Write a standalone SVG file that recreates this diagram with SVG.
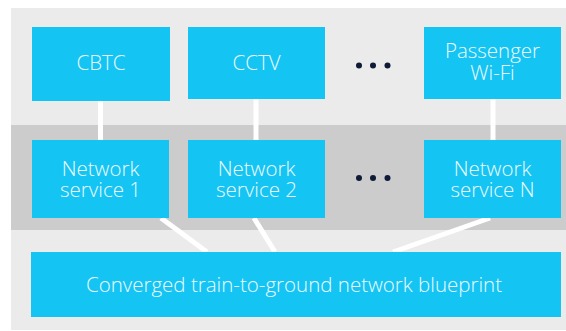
<svg xmlns="http://www.w3.org/2000/svg" width="566" height="331" viewBox="0 0 566 331">
  <style>
    .box { fill: #14c4f3; }
    .lbl { font-family: "Open Sans", "Noto Sans", sans-serif; font-weight: 300; font-size: 20.5px; fill: #eefaff; text-anchor: middle; }
    .conn { stroke: #ffffff; stroke-width: 5; fill: none; }
    .dot { fill: #0e1a38; }
  </style>
  <rect x="0" y="0" width="566" height="331" fill="#ffffff"/>
  <rect x="11" y="8" width="555" height="322" fill="#ebebeb"/>
  <rect x="11" y="125" width="555" height="105" fill="#cccccc"/>

  <g id="connectors">
    <line class="conn" x1="100.5" y1="95" x2="100.5" y2="145"/>
    <line class="conn" x1="256" y1="95" x2="256" y2="145"/>
    <line class="conn" x1="493" y1="95" x2="493" y2="145"/>
    <line class="conn" x1="161" y1="218" x2="207" y2="252"/>
    <line class="conn" x1="254" y1="218" x2="275" y2="252"/>
    <line class="conn" x1="490" y1="218" x2="393" y2="252"/>
  </g>

  <g id="cbtc">
    <rect class="box" x="32" y="27" width="138" height="74"/>
    <text class="lbl" x="101" y="70">CBTC</text>
  </g>
  <g id="cctv">
    <rect class="box" x="188" y="27" width="137" height="72"/>
    <text class="lbl" x="256.5" y="70">CCTV</text>
  </g>
  <g id="dots-top">
    <circle class="dot" cx="359" cy="65.5" r="3"/>
    <circle class="dot" cx="373" cy="65.5" r="3"/>
    <circle class="dot" cx="387.5" cy="65.5" r="3"/>
  </g>
  <g id="wifi">
    <rect class="box" x="424" y="27" width="137" height="72"/>
    <text class="lbl" x="492.5" y="58">Passenger<tspan x="492.5" dy="21.5">Wi-Fi</tspan></text>
  </g>

  <g id="ns1">
    <rect class="box" x="32" y="140" width="137" height="78"/>
    <text class="lbl" x="100.5" y="175.5">Network<tspan x="100.5" dy="21">service 1</tspan></text>
  </g>
  <g id="ns2">
    <rect class="box" x="188" y="140" width="137" height="78"/>
    <text class="lbl" x="256.5" y="175.5">Network<tspan x="256.5" dy="21">service 2</tspan></text>
  </g>
  <g id="dots-mid">
    <circle class="dot" cx="359" cy="178" r="3"/>
    <circle class="dot" cx="373" cy="178" r="3"/>
    <circle class="dot" cx="387.5" cy="178" r="3"/>
  </g>
  <g id="nsn">
    <rect class="box" x="424" y="140" width="137" height="78"/>
    <text class="lbl" x="492.5" y="175.5">Network<tspan x="492.5" dy="21">service N</tspan></text>
  </g>

  <g id="blueprint">
    <rect class="box" x="31" y="252" width="530" height="65"/>
    <text class="lbl" x="294" y="292">Converged train-to-ground network blueprint</text>
  </g>
</svg>
